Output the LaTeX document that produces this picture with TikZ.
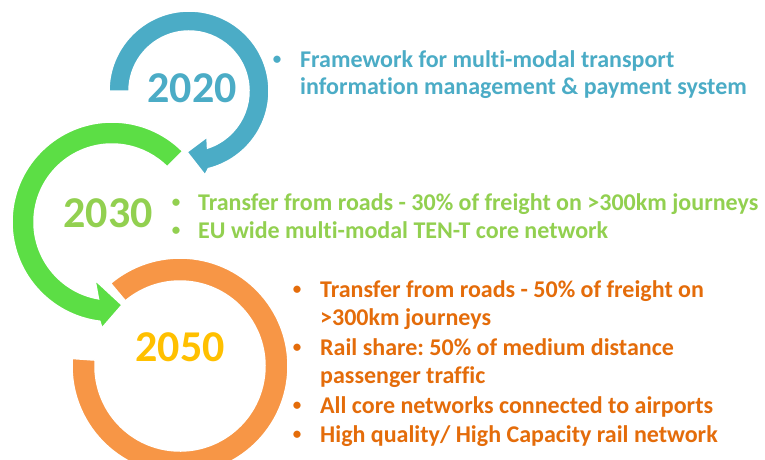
\documentclass[tikz,border=0pt]{standalone}
\usepackage{fontspec}
\setmainfont{Carlito}[Ligatures=NoCommon]
\usepackage{xcolor}
\frenchspacing
\definecolor{ringblue}{HTML}{4BACC6}
\definecolor{ringgreen}{HTML}{5CDE45}
\definecolor{ringorange}{HTML}{F79646}
\definecolor{textgreen}{HTML}{92D050}
\definecolor{textorange}{HTML}{E46C0A}
\definecolor{yeargold}{HTML}{FFC000}
\newcommand{\goalbullet}{\makebox[0pt]{\fontsize{17}{17}\selectfont\raisebox{2.5pt}{\textbullet}}}

\begin{document}
\begin{tikzpicture}[x=1pt, y=-1pt,
    ring/.style={draw=white, line width=1.5pt},
    yearlabel/.style={inner sep=0pt, font=\fontsize{44}{44}\selectfont\bfseries},
    goals/.style={anchor=base west, inner sep=0pt, font=\fontsize{24}{28}\selectfont\bfseries}]
    \clip (0,0) rectangle (765,459);
    \fill[white] (0,0) rectangle (765,459);
    \filldraw[ring, fill=ringorange] ([shift={(180,366)}]184:108) arc[start angle=184, end angle=-130, radius=108]
        -- ([shift={(180,366)}]-130:85) arc[start angle=-130, end angle=184, radius=85] -- cycle;
    \filldraw[ring, fill=ringgreen] ([shift={(112,222)}]315:100) arc[start angle=315, end angle=97, radius=100]
        -- (102,328) -- (122,305) -- (95,280)
        -- ([shift={(112,222)}]100:78) arc[start angle=100, end angle=315, radius=78] -- cycle;
    \filldraw[ring, fill=ringblue] ([shift={(189,91)}]180:80) arc[start angle=180, end angle=436, radius=80]
        -- (205,175) -- (187,152) -- (207,137)
        -- ([shift={(189,91)}]432:60) arc[start angle=432, end angle=180, radius=60] -- cycle;
    \node[yearlabel, text=ringblue] (y2020) at (192,88) {2020};
    \node[yearlabel, text=textgreen] (y2030) at (108,213) {2030};
    \node[yearlabel, text=yeargold] (y2050) at (180,347) {2050};
    \node[goals, text=ringblue, font=\fontsize{24}{27}\selectfont\bfseries] (goals2020) at (277,67) {\begin{tabular}[t]{@{}l@{}}
        \goalbullet\hspace{23pt}Framework for multi-modal transport\\
        \hspace{23pt}information management \& payment system
    \end{tabular}};
    \node[goals, text=textgreen] (goals2030) at (176,210) {\begin{tabular}[t]{@{}l@{}}
        \goalbullet\hspace{22pt}Transfer from roads - 30\% of freight on >300km journeys\\
        \goalbullet\hspace{22pt}EU wide multi-modal TEN-T core network
    \end{tabular}};
    \node[goals, text=textorange] (goals2050) at (297,297) {\begin{tabular}[t]{@{}l@{}}
        \goalbullet\hspace{23pt}Transfer from roads - 50\% of freight on\\
        \hspace{23pt}>300km journeys\\[2pt]
        \goalbullet\hspace{23pt}Rail share: 50\% of medium distance\\
        \hspace{23pt}passenger traffic\\[2pt]
        \goalbullet\hspace{23pt}All core networks connected to airports\\[1pt]
        \goalbullet\hspace{23pt}High quality/ High Capacity rail network
    \end{tabular}};
\end{tikzpicture}
\end{document}
